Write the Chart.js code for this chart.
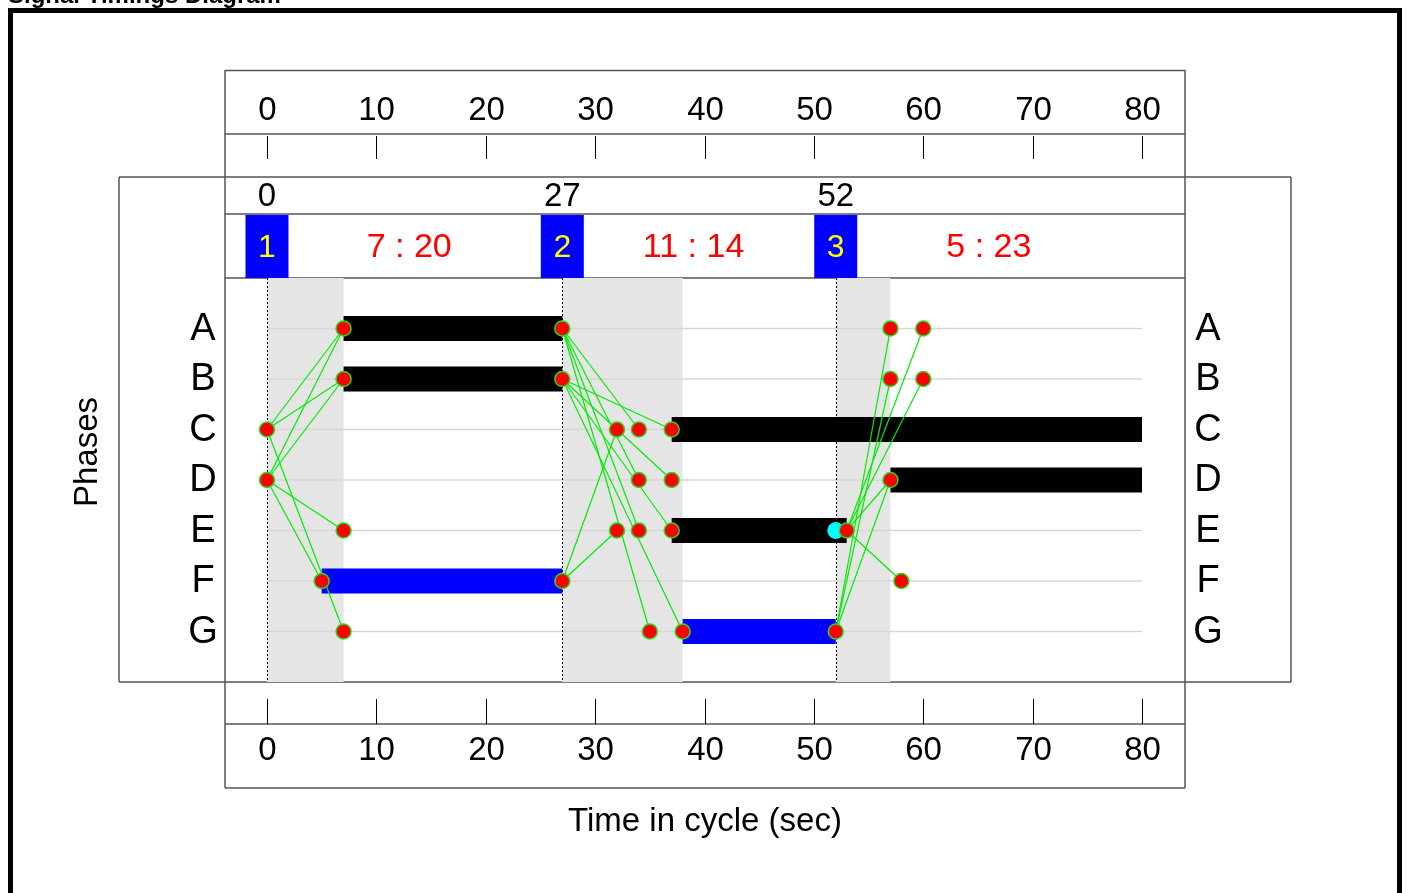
<!DOCTYPE html>
<html>
<head>
<meta charset="utf-8">
<title>Signal Timings Diagram</title>
<script src="https://cdn.jsdelivr.net/npm/chart.js@4.4.1/dist/chart.umd.min.js"></script>
<style>
  html, body { margin: 0; padding: 0; background: #fff; }
  canvas { display: block; }
</style>
</head>
<body>
<canvas id="grafico" width="1407" height="893"></canvas>
<script>
// Datos del diagrama
const phases = ["A", "B", "C", "D", "E", "F", "G"];
const timeTicks = [0, 10, 20, 30, 40, 50, 60, 70, 80];

const stageNumbers = ["1", "2", "3"];
const stageStarts = [0, 27, 52];
const stageSplits = ["7 : 20", "11 : 14", "5 : 23"];
const stageSplitAt = [13, 39, 66];

// intergreen periods (shaded)
const interStarts = [0, 27, 52];
const interEnds = [7, 38, 57];

// green times per phase
const barPhase = ["A", "B", "F", "C", "E", "G", "D"];
const barStart = [7, 7, 5, 37, 37, 38, 57];
const barEnd = [27, 27, 27, 80, 53, 52, 80];
const pedPhases = ["F", "G"];

// markers
const markPhase = ["C", "D", "A", "B", "E", "F", "G",
  "A", "B", "F", "C", "C", "C", "D", "D", "E", "E", "E", "G", "G",
  "G", "E", "A", "B", "D", "A", "B", "F"];
const markTime = [0, 0, 7, 7, 7, 5, 7,
  27, 27, 27, 32, 34, 37, 34, 37, 32, 34, 37, 35, 38,
  52, 53, 57, 57, 57, 60, 60, 58];
const extraPhase = ["E"];
const extraTime = [52];

// intergreen links: [from phase, from time, to phase, to time]
const links = [
  ["C", 0, "A", 7], ["C", 0, "B", 7], ["C", 0, "G", 7],
  ["D", 0, "A", 7], ["D", 0, "B", 7], ["D", 0, "E", 7], ["D", 0, "F", 5],
  ["F", 27, "C", 32], ["F", 27, "E", 32],
  ["A", 27, "C", 34], ["A", 27, "D", 34], ["A", 27, "E", 34], ["A", 27, "G", 35],
  ["B", 27, "C", 37], ["B", 27, "D", 37], ["B", 27, "E", 37], ["B", 27, "G", 38],
  ["G", 52, "A", 57], ["G", 52, "B", 57], ["G", 52, "D", 57],
  ["E", 53, "A", 60], ["E", 53, "B", 60], ["E", 53, "D", 57], ["E", 53, "F", 58],
];

const FONT = "'Liberation Sans', Arial, sans-serif";
const rowOf = (p) => phases.indexOf(p) + 1;

// Arma los datasets
const datasets = [];

datasets.push({
  label: "marcas",
  data: markPhase.map((p, i) => ({ x: markTime[i], y: rowOf(p) })),
  showLine: false,
  pointRadius: 7.5,
  pointBackgroundColor: "#ff0000",
  pointBorderColor: "#22dd22",
  pointBorderWidth: 1.5,
  order: 0,
  clip: false,
});

datasets.push({
  label: "extra",
  data: extraPhase.map((p, i) => ({ x: extraTime[i], y: rowOf(p) })),
  showLine: false,
  pointRadius: 8,
  pointBackgroundColor: "#00ffff",
  pointBorderColor: "#00ffff",
  pointBorderWidth: 1,
  order: 1,
  clip: false,
});

links.forEach((l) => {
  datasets.push({
    data: [
      { x: l[1], y: rowOf(l[0]) },
      { x: l[3], y: rowOf(l[2]) },
    ],
    borderColor: "#00ee00",
    borderWidth: 1.2,
    pointRadius: 0,
    order: 2,
    clip: false,
  });
});

barPhase.forEach((p, i) => {
  datasets.push({
    data: [
      { x: barStart[i], y: rowOf(p) },
      { x: barEnd[i], y: rowOf(p) },
    ],
    borderColor: pedPhases.includes(p) ? "#0000ff" : "#000000",
    borderWidth: 25,
    borderCapStyle: "butt",
    pointRadius: 0,
    order: 3,
    clip: false,
  });
});

// Dibuja marcos, ejes y textos alrededor del área
const decoraciones = {
  id: "decoraciones",
  beforeDraw(chart) {
    const ctx = chart.ctx;
    const x = chart.scales.x;
    ctx.save();
    ctx.fillStyle = "#fff";
    ctx.fillRect(0, 0, chart.width, chart.height);

    // title, cut at the top
    ctx.fillStyle = "#000";
    ctx.font = "bold 24px " + FONT;
    ctx.textAlign = "left";
    ctx.textBaseline = "alphabetic";
    ctx.fillText("Signal Timings Diagram", 8, 3);

    // outer frame
    ctx.strokeStyle = "#000";
    ctx.lineWidth = 5;
    ctx.strokeRect(10.5, 10.5, 1389, 900);

    // boxes
    ctx.strokeStyle = "#555";
    ctx.lineWidth = 1.5;
    const hline = (y, x1, x2) => { ctx.beginPath(); ctx.moveTo(x1, y); ctx.lineTo(x2, y); ctx.stroke(); };
    const vline = (xp, y1, y2) => { ctx.beginPath(); ctx.moveTo(xp, y1); ctx.lineTo(xp, y2); ctx.stroke(); };
    hline(70.5, 225, 1185);
    hline(134, 225, 1185);
    hline(177, 119, 1291);
    hline(214, 225, 1185);
    hline(278, 225, 1185);
    hline(682, 119, 1291);
    hline(724, 225, 1185);
    hline(788, 225, 1185);
    vline(225, 70, 788);
    vline(1185, 70, 788);
    vline(119, 177, 682);
    vline(1291, 177, 682);

    // ticks top and bottom
    ctx.strokeStyle = "#000";
    ctx.lineWidth = 1;
    ctx.fillStyle = "#000";
    ctx.font = "33px " + FONT;
    ctx.textAlign = "center";
    ctx.textBaseline = "middle";
    timeTicks.forEach((t) => {
      const px = Math.round(x.getPixelForValue(t)) + 0.5;
      vline(px, 136, 159);
      vline(px, 699, 724);
      ctx.fillText(String(t), px, 111);
      ctx.fillText(String(t), px, 751);
    });

    // stage row
    stageStarts.forEach((s, i) => {
      const px = x.getPixelForValue(s);
      ctx.fillStyle = "#000";
      ctx.font = "33px " + FONT;
      ctx.fillText(String(s), px, 197);
      ctx.fillStyle = "#0000ff";
      ctx.fillRect(px - 21.5, 215, 43, 63);
      ctx.fillStyle = "#ffff00";
      ctx.font = "32px " + FONT;
      ctx.fillText(stageNumbers[i], px, 248);
      ctx.fillStyle = "#ff0000";
      ctx.font = "34px " + FONT;
      ctx.fillText(stageSplits[i], x.getPixelForValue(stageSplitAt[i]), 248);
    });

    // phase labels both sides
    const y = chart.scales.y;
    ctx.fillStyle = "#000";
    ctx.font = "38px " + FONT;
    phases.forEach((p) => {
      const py = y.getPixelForValue(rowOf(p));
      ctx.fillText(p, 203, py + 1);
      ctx.fillText(p, 1208, py + 1);
    });

    // axis titles
    ctx.font = "33px " + FONT;
    ctx.fillText("Time in cycle (sec)", 705, 822);
    ctx.save();
    ctx.translate(88, 452);
    ctx.rotate(-Math.PI / 2);
    ctx.fillText("Phases", 0, 0);
    ctx.restore();
    ctx.restore();
  },
  beforeDatasetsDraw(chart) {
    const ctx = chart.ctx;
    const { left, right, top, bottom } = chart.chartArea;
    const x = chart.scales.x;
    const y = chart.scales.y;
    ctx.save();
    // intergreen shading
    ctx.fillStyle = "#e5e5e5";
    interStarts.forEach((s, i) => {
      const x1 = x.getPixelForValue(s);
      const x2 = x.getPixelForValue(interEnds[i]);
      ctx.fillRect(x1, top, x2 - x1, bottom - top);
    });
    // row grid
    ctx.strokeStyle = "#d6d6d6";
    ctx.lineWidth = 1.5;
    phases.forEach((p) => {
      const py = y.getPixelForValue(rowOf(p));
      ctx.beginPath();
      ctx.moveTo(left, py);
      ctx.lineTo(right, py);
      ctx.stroke();
    });
    // stage change lines
    ctx.strokeStyle = "#000";
    ctx.lineWidth = 1;
    ctx.setLineDash([2, 2]);
    stageStarts.forEach((s) => {
      const px = Math.round(x.getPixelForValue(s)) + 0.5;
      ctx.beginPath();
      ctx.moveTo(px, top);
      ctx.lineTo(px, bottom);
      ctx.stroke();
    });
    ctx.restore();
  },
};

const config = {
  type: "line",
  data: { datasets },
  options: {
    responsive: false,
    devicePixelRatio: 1,
    animation: false,
    layout: {
      padding: { left: 267, right: 265, top: 278, bottom: 211 },
    },
    plugins: {
      legend: { display: false },
      tooltip: { enabled: false },
    },
    scales: {
      x: { type: "linear", min: 0, max: 80, display: false },
      y: { type: "linear", min: 0, max: 8, reverse: true, display: false },
    },
  },
  plugins: [decoraciones],
};

new Chart(document.getElementById("grafico").getContext("2d"), config);
</script>
</body>
</html>
